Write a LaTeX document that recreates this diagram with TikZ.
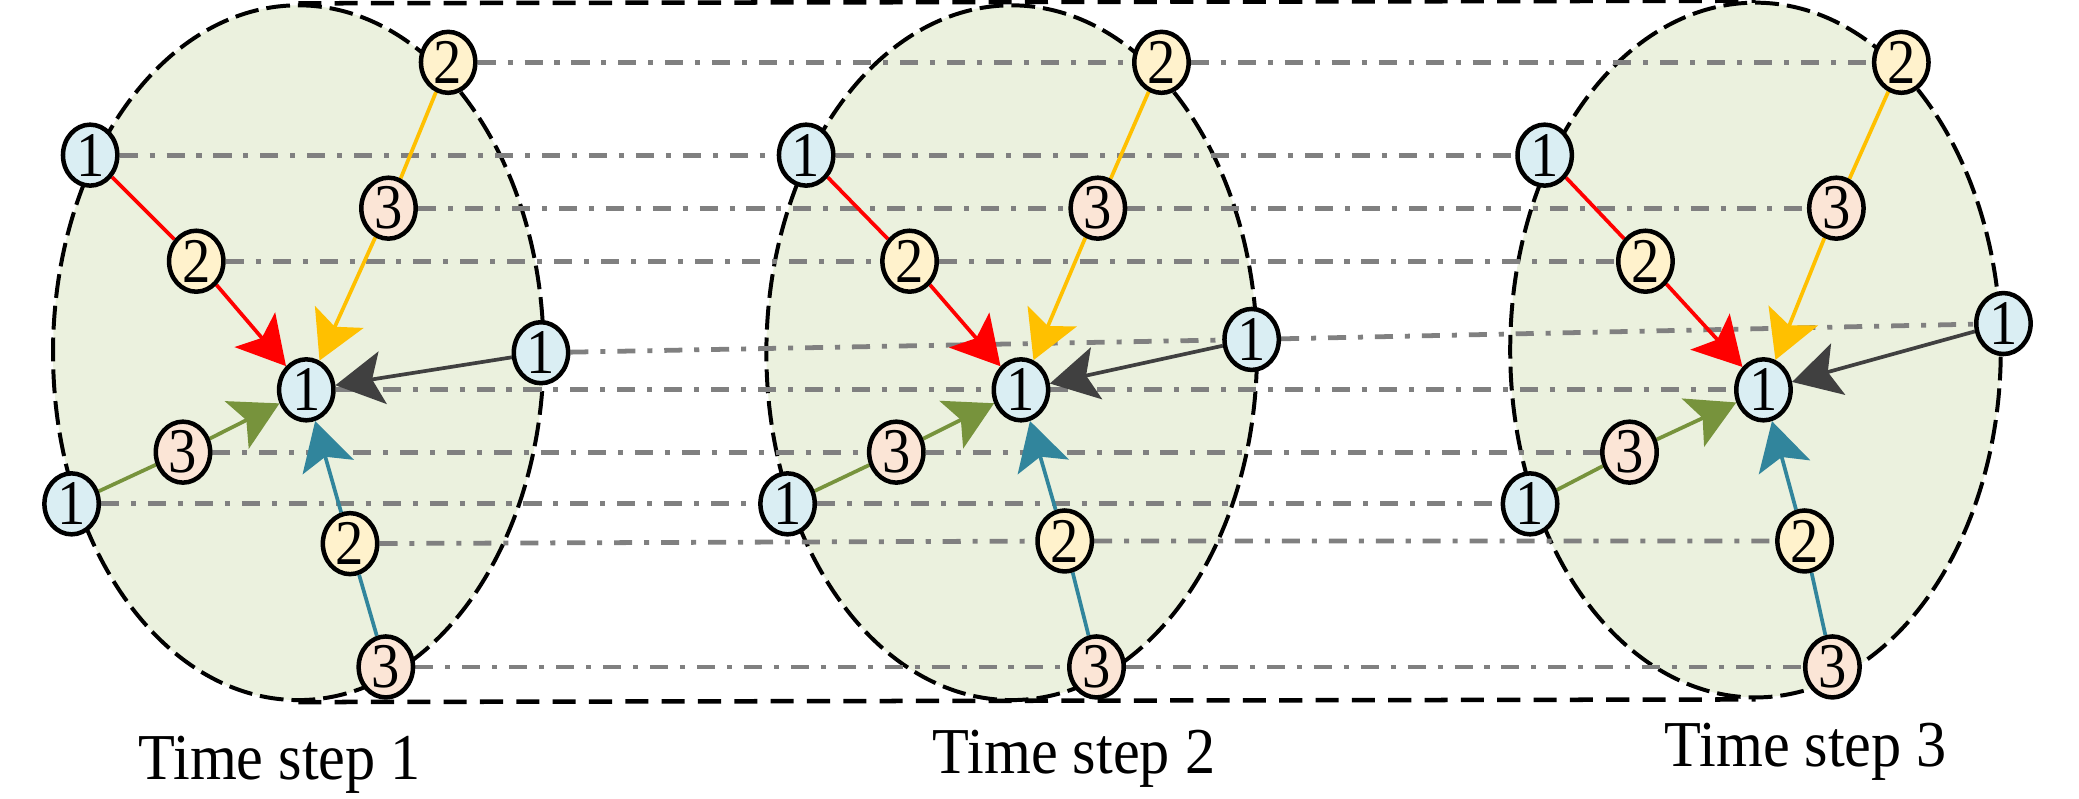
\documentclass[tikz,border=0pt]{standalone}
\usepackage{fontspec}
\setmainfont{Liberation Serif}
\newfontfamily\condfont[FakeStretch=0.89]{Liberation Serif}
\newfontfamily\labfont[FakeStretch=0.92]{Liberation Serif}
\usetikzlibrary{shapes.geometric,arrows.meta}
\pgfdeclarelayer{bg}
\pgfdeclarelayer{mid}
\pgfsetlayers{bg,mid,main}
\definecolor{nblue}{HTML}{DAEEF3}
\definecolor{nyel}{HTML}{FFF2CC}
\definecolor{npink}{HTML}{FBE5D6}
\definecolor{regfill}{HTML}{EBF1DE}
\definecolor{cred}{HTML}{FF0000}
\definecolor{cyel}{HTML}{FFC000}
\definecolor{cdark}{HTML}{404040}
\definecolor{cgreen}{HTML}{77933C}
\definecolor{cteal}{HTML}{31859C}
\definecolor{cgray}{HTML}{808080}
\tikzset{
  nd/.style={ellipse, draw=black, line width=1.7pt, minimum width=20.5pt, minimum height=23pt, inner sep=0pt, font=\condfont\fontsize{24}{24}\selectfont},
  nb/.style={nd, fill=nblue},
  ny/.style={nd, fill=nyel},
  np/.style={nd, fill=npink},
  region/.style={ellipse, draw=black, fill=regfill, line width=1.5pt, dash pattern=on 9pt off 3pt, minimum width=185pt, minimum height=262pt, inner sep=0pt},
  rim/.style={draw=black, line width=1.7pt, dash pattern=on 8.7pt off 5pt},
  link/.style={draw=cgray, line width=1.8pt, dash pattern=on 6.8pt off 4.5pt on 1.9pt off 4.5pt},
  edg/.style={line width=1.4pt},
  arr/.style={edg, -{Stealth[length=18pt, width=20pt, inset=4pt]}},
  lab/.style={font=\labfont\fontsize{24.7}{25}\selectfont, anchor=base, inner sep=0pt}
}
\begin{document}
\begin{tikzpicture}[x=0.5pt, y=-0.5pt]
\useasboundingbox (0,0) rectangle (1568,602);
% regions
\begin{pgfonlayer}{bg}
\node[region] (e1) at (225,266) {};
\node[region] (e2) at (763,266) {};
\node[region] (e3) at (1324,264) {};
\end{pgfonlayer}
% panel 1 nodes
\node[ny] (p1-t) at (338,47) {2};
\node[nb] (p1-a) at (68,117) {1};
\node[np] (p1-c) at (293,157) {3};
\node[ny] (p1-d) at (148,197) {2};
\node[nb] (p1-r) at (408,266) {1};
\node[nb] (p1-o) at (231,294) {1};
\node[np] (p1-g) at (138,341) {3};
\node[nb] (p1-l) at (54,380) {1};
\node[ny] (p1-h) at (264,410) {2};
\node[np] (p1-s) at (291,503) {3};
% panel 2 nodes
\node[ny] (p2-t) at (876,47) {2};
\node[nb] (p2-a) at (608,117) {1};
\node[np] (p2-c) at (828,157) {3};
\node[ny] (p2-d) at (686,197) {2};
\node[nb] (p2-r) at (944,256) {1};
\node[nb] (p2-o) at (770,294) {1};
\node[np] (p2-g) at (676,341) {3};
\node[nb] (p2-l) at (594,380) {1};
\node[ny] (p2-h) at (803,408) {2};
\node[np] (p2-s) at (827,503) {3};
% panel 3 nodes
\node[ny] (p3-t) at (1434,47) {2};
\node[nb] (p3-a) at (1165,117) {1};
\node[np] (p3-c) at (1385,157) {3};
\node[ny] (p3-d) at (1241,197) {2};
\node[nb] (p3-r) at (1511,244) {1};
\node[nb] (p3-o) at (1330,294) {1};
\node[np] (p3-g) at (1229,341) {3};
\node[nb] (p3-l) at (1154,380) {1};
\node[ny] (p3-h) at (1361,408) {2};
\node[np] (p3-s) at (1382,503) {3};
% labels
\node[lab] (l1) at (211,588) {Time step 1};
\node[lab] (l2) at (810,583) {Time step 2};
\node[lab] (l3) at (1362,578) {Time step 3};
\begin{pgfonlayer}{mid}
% cylinder rims
\draw[rim] (e1.north) -- (e3.north);
\draw[rim] (e1.south) -- (e3.south);
% links through time
\foreach \n in {t,a,c,d,r,o,g,l,h,s}{
  \draw[link] (p1-\n) -- (p2-\n) -- (p3-\n);
}
% edges in each panel
\foreach \k in {1,2,3}{
  \draw[edg, draw=cred] (p\k-a) -- (p\k-d);
  \draw[arr, draw=cred, fill=cred] (p\k-d) -- (p\k-o);
  \draw[edg, draw=cyel] (p\k-t) -- (p\k-c);
  \draw[arr, draw=cyel, fill=cyel] (p\k-c) -- (p\k-o);
  \draw[arr, draw=cdark, fill=cdark] (p\k-r) -- (p\k-o);
  \draw[edg, draw=cgreen] (p\k-l) -- (p\k-g);
  \draw[arr, draw=cgreen, fill=cgreen] (p\k-g) -- (p\k-o);
  \draw[edg, draw=cteal] (p\k-s) -- (p\k-h);
  \draw[arr, draw=cteal, fill=cteal] (p\k-h) -- (p\k-o);
}
\end{pgfonlayer}
\end{tikzpicture}
\end{document}
